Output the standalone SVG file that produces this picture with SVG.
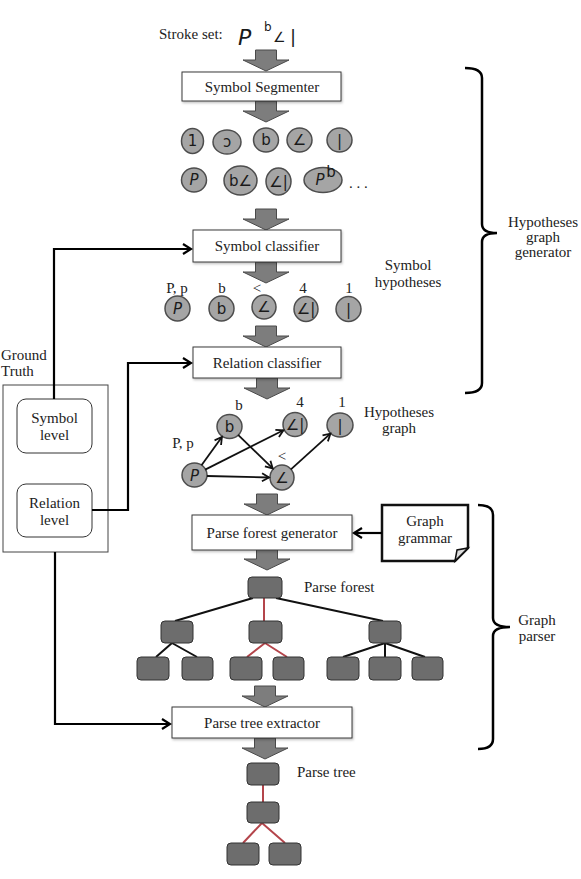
<svg xmlns="http://www.w3.org/2000/svg" width="581" height="879" viewBox="0 0 581 879">
<defs>
<style>
.t{font-family:"Liberation Serif",serif;font-size:15px;fill:#222}
.tm{font-family:"Liberation Serif",serif;font-size:15px;fill:#222;text-anchor:middle}
.box{fill:#fff;stroke:#3a3a3a;stroke-width:1;filter:url(#sh)}
.ba{fill:#7d7d7d;stroke:#4a4a4a;stroke-width:1}
.c{fill:#a5a5a5;stroke:#4d4d4d;stroke-width:1.5}
.h{font-family:"DejaVu Sans",sans-serif;font-size:15px;fill:#1a1a1a;text-anchor:middle}
.n{fill:#6d6d6d;stroke:#333;stroke-width:1}
.bl{stroke:#111;stroke-width:2;fill:none}
.rl{stroke:#b4454b;stroke-width:2;fill:none}
.con{stroke:#000;stroke-width:2.2;fill:none;marker-end:url(#ah)}
.ga{stroke:#111;stroke-width:1.8;fill:none;marker-end:url(#ah2)}
.brace{stroke:#000;stroke-width:2.5;fill:none}
.rr{fill:#fff;stroke:#333;stroke-width:1}
</style>
<filter id="sh" x="-10%" y="-20%" width="130%" height="150%">
<feDropShadow dx="1" dy="1.5" stdDeviation="1" flood-color="#000" flood-opacity="0.25"/>
</filter>
<marker id="ah" markerUnits="userSpaceOnUse" markerWidth="12" markerHeight="12" refX="10" refY="6" orient="auto">
<path d="M2,1 L10,6 L2,11" fill="none" stroke="#000" stroke-width="2.2"/>
</marker>
<marker id="ah2" markerUnits="userSpaceOnUse" markerWidth="12" markerHeight="12" refX="10" refY="6" orient="auto">
<path d="M3,2 L10,6 L3,10" fill="none" stroke="#111" stroke-width="1.8"/>
</marker>
<path id="barrow" class="ba" d="M-10.5,0 H10.5 V10 H23 L0,21 L-23,10 H-10.5 Z"/>
</defs>

<rect width="581" height="879" fill="#fff"/>

<!-- stroke set -->
<g id="stroke-set">
<text class="t" x="159" y="39">Stroke set:</text>
<text x="238" y="45" font-family="DejaVu Sans" font-style="italic" font-size="22" fill="#1a1a1a">P</text>
<text x="264" y="31" font-family="DejaVu Sans" font-size="12" fill="#1a1a1a">b</text>
<text x="273" y="42" font-family="DejaVu Sans" font-size="14" fill="#1a1a1a">∠</text>
<text x="290" y="43" font-family="DejaVu Sans" font-size="18" fill="#1a1a1a">|</text>
</g>

<!-- block arrows -->
<g id="block-arrows">
<use href="#barrow" x="266" y="50"/>
<use href="#barrow" x="266" y="101"/>
<use href="#barrow" x="266" y="209"/>
<use href="#barrow" x="266" y="262"/>
<use href="#barrow" x="266" y="326"/>
<use href="#barrow" x="267" y="378"/>
<use href="#barrow" x="267" y="494"/>
<use href="#barrow" x="267" y="549"/>
<use href="#barrow" x="265" y="686"/>
<use href="#barrow" x="265" y="738"/>
</g>

<g id="symbol-segmenter">
<rect class="box" x="182" y="72" width="159" height="29"/>
<text class="tm" x="262" y="91.5">Symbol Segmenter</text>
</g>

<g id="segmentations">
<ellipse class="c" cx="192.5" cy="141" rx="11" ry="12.5"/>
<text class="h" x="192.5" y="146">1</text>
<ellipse class="c" cx="227" cy="142" rx="14" ry="12"/>
<text class="h" x="227" y="147">ɔ</text>
<ellipse class="c" cx="266" cy="140" rx="12.5" ry="12"/>
<text class="h" x="266" y="145">b</text>
<ellipse class="c" cx="299.5" cy="140" rx="12.5" ry="12"/>
<text class="h" x="299.5" y="145" font-size="13">∠</text>
<ellipse class="c" cx="339.5" cy="140" rx="12.5" ry="12"/>
<text class="h" x="339.5" y="146">|</text>
<ellipse class="c" cx="194" cy="180" rx="12.5" ry="12"/>
<text class="h" x="194" y="185" font-style="italic">P</text>
<ellipse class="c" cx="240.5" cy="180.5" rx="16.5" ry="14.5"/>
<text class="h" x="240.5" y="185.5" font-size="12">b∠</text>
<ellipse class="c" cx="278.5" cy="181.5" rx="12.5" ry="13.5"/>
<text class="h" x="278.5" y="186.5" font-size="12">∠|</text>
<ellipse class="c" cx="323" cy="180" rx="19" ry="12.5"/>
<text class="h" x="320" y="185" font-size="14" font-style="italic">P</text>
<text class="h" x="331" y="177" font-size="10">b</text>
<text class="t" x="349" y="188">. . .</text>
</g>

<g id="symbol-classifier">
<rect class="box" x="193" y="230" width="148" height="32"/>
<text class="tm" x="267" y="251">Symbol classifier</text>
</g>

<g id="symbol-hypotheses">
<text class="tm" x="177" y="293">P, p</text>
<text class="tm" x="222" y="293">b</text>
<text class="tm" x="257" y="293">&lt;</text>
<text class="tm" x="303" y="293">4</text>
<text class="tm" x="349" y="293">1</text>
<ellipse class="c" cx="177.5" cy="308.5" rx="12.5" ry="12.5"/>
<text class="h" x="177.5" y="314" font-style="italic">P</text>
<ellipse class="c" cx="221.5" cy="308.5" rx="12.5" ry="12.5"/>
<text class="h" x="221.5" y="314">b</text>
<ellipse class="c" cx="264" cy="307" rx="12" ry="12"/>
<text class="h" x="264" y="312" font-size="13">∠</text>
<ellipse class="c" cx="306" cy="309" rx="12" ry="12.5"/>
<text class="h" x="306" y="314" font-size="12">∠|</text>
<ellipse class="c" cx="348.5" cy="309" rx="12.5" ry="12.5"/>
<text class="h" x="348.5" y="315">|</text>
<text class="tm" x="408" y="270">Symbol</text>
<text class="tm" x="408" y="287">hypotheses</text>
</g>

<g id="relation-classifier">
<rect class="box" x="193" y="347" width="148" height="31"/>
<text class="tm" x="267" y="367.5">Relation classifier</text>
</g>

<g id="ground-truth">
<text class="t" x="1" y="360">Ground</text>
<text class="t" x="1" y="376">Truth</text>
<rect x="3" y="385" width="105" height="167" fill="#fff" stroke="#444" stroke-width="1"/>
</g>
<g id="symbol-level">
<rect class="rr" x="17" y="399" width="75" height="54" rx="9"/>
<text class="tm" x="54.5" y="423">Symbol</text>
<text class="tm" x="54.5" y="440">level</text>
</g>
<g id="relation-level">
<rect class="rr" x="17" y="484" width="75" height="53" rx="9"/>
<text class="tm" x="54.5" y="508">Relation</text>
<text class="tm" x="54.5" y="525">level</text>
</g>

<g id="hypotheses-graph">
<text class="tm" x="239" y="410">b</text>
<text class="tm" x="300" y="407">4</text>
<text class="tm" x="342" y="407">1</text>
<text class="tm" x="183" y="448">P, p</text>
<text class="tm" x="282" y="461" font-size="12">&lt;</text>
<ellipse class="c" cx="229.5" cy="426.5" rx="12.5" ry="12"/>
<text class="h" x="229.5" y="432">b</text>
<ellipse class="c" cx="295" cy="424.5" rx="12" ry="12"/>
<text class="h" x="295" y="429.5" font-size="12">∠|</text>
<ellipse class="c" cx="340" cy="425" rx="13" ry="12"/>
<text class="h" x="340" y="431">|</text>
<ellipse class="c" cx="194.5" cy="475" rx="12.5" ry="12"/>
<text class="h" x="194.5" y="480.5" font-style="italic">P</text>
<ellipse class="c" cx="282" cy="477.5" rx="12" ry="12.5"/>
<text class="h" x="282" y="482.5" font-size="13">∠</text>
<text class="tm" x="399" y="417">Hypotheses</text>
<text class="tm" x="399" y="433">graph</text>
</g>

<g id="parse-forest-generator">
<rect class="box" x="192" y="515" width="160" height="35"/>
<text class="tm" x="272" y="537.5">Parse forest generator</text>
</g>

<g id="graph-grammar">
<path d="M382,505 H468 V548 L455,561 H382 Z" fill="#fff" stroke="#111" stroke-width="2.5"/>
<path d="M455,561 L457,550 L468,548 Z" fill="#ddd" stroke="#111" stroke-width="1.5"/>
<text class="tm" x="425" y="526">Graph</text>
<text class="tm" x="425" y="543">grammar</text>
</g>

<g id="parse-forest">
<path class="bl" d="M253,598 L175,621 M276,598 L383,621 M172,643 L156,657 M172,643 L197,657 M385,643 L343,657 M385,643 L385,657 M385,643 L425,657"/>
<path class="rl" d="M264,598 V621 M265,643 L247,657 M265,643 L287,657"/>
<rect class="n" x="248" y="577" width="34" height="21" rx="4"/>
<rect class="n" x="161" y="621" width="32" height="22" rx="4"/>
<rect class="n" x="249" y="621" width="33" height="22" rx="4"/>
<rect class="n" x="369" y="621" width="32" height="22" rx="4"/>
<rect class="n" x="137" y="657" width="32" height="23" rx="4"/>
<rect class="n" x="182" y="657" width="31" height="23" rx="4"/>
<rect class="n" x="230" y="657" width="32" height="23" rx="4"/>
<rect class="n" x="273" y="657" width="31" height="23" rx="4"/>
<rect class="n" x="327" y="657" width="32" height="23" rx="4"/>
<rect class="n" x="369" y="657" width="32" height="23" rx="4"/>
<rect class="n" x="412" y="657" width="31" height="23" rx="4"/>
<text class="t" x="304" y="592">Parse forest</text>
</g>

<g id="parse-tree-extractor">
<rect class="box" x="172" y="707" width="180" height="31"/>
<text class="tm" x="262" y="727.5">Parse tree extractor</text>
</g>

<g id="parse-tree">
<path class="rl" d="M263,785 V802 M262,823 L243,843 M262,823 L285,843"/>
<rect class="n" x="247" y="763" width="32" height="22" rx="4"/>
<rect class="n" x="247" y="802" width="32" height="21" rx="4"/>
<rect class="n" x="227" y="843" width="32" height="22" rx="4"/>
<rect class="n" x="269" y="843" width="32" height="22" rx="4"/>
<text class="t" x="297" y="777">Parse tree</text>
</g>

<g id="brace-hgg">
<path class="brace" d="M465,68 Q482,68 482,78 V224 Q482,233 497,233 Q482,233 482,242 V383 Q482,393 465,393"/>
<text class="tm" x="543" y="227">Hypotheses</text>
<text class="tm" x="543" y="242">graph</text>
<text class="tm" x="543" y="257">generator</text>
</g>

<g id="brace-gp">
<path class="brace" d="M478,505 Q493,505 493,515 V618 Q493,627 510,627 Q493,627 493,636 V739 Q493,749 478,749"/>
<text class="tm" x="537" y="625">Graph</text>
<text class="tm" x="537" y="641">parser</text>
</g>

<g id="connectors">
<path class="con" d="M54,399 V249 H191"/>
<path class="con" d="M92,510 H128 V363 H191"/>
<path class="con" d="M55,552 V724 H170"/>
<path class="con" d="M382,533 H354"/>
<path class="ga" d="M201.5,465.3 L221.9,437"/>
<path class="ga" d="M205.2,469.6 L283.4,430.3"/>
<path class="ga" d="M207,476 L269,477.5"/>
<path class="ga" d="M238.1,434.9 L272.7,468.4"/>
<path class="ga" d="M290.9,469.4 L330.4,433.7"/>
</g>
</svg>
